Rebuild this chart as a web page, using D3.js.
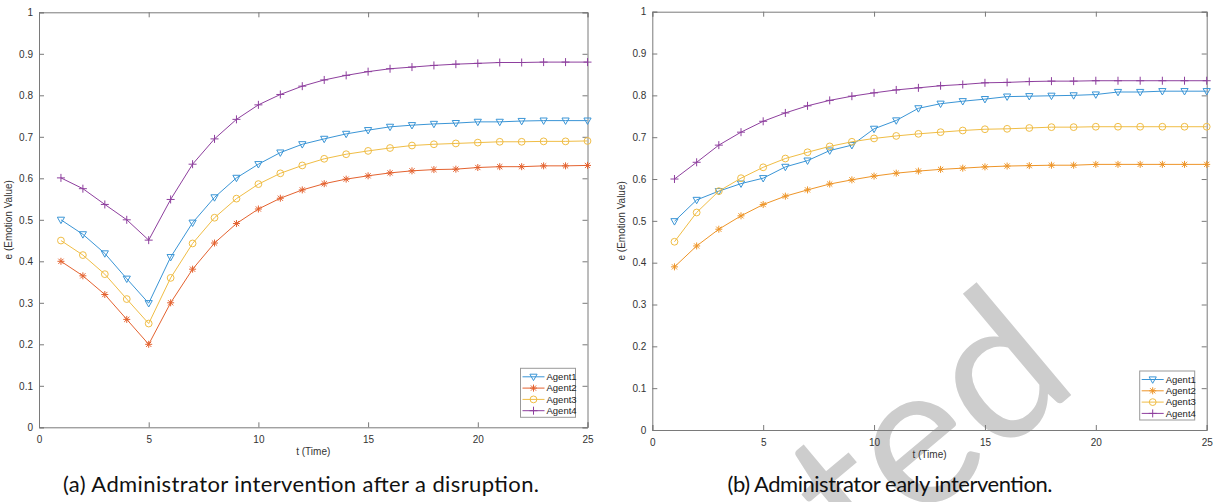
<!DOCTYPE html>
<html>
<head>
<meta charset="utf-8">
<script src="https://cdn.jsdelivr.net/npm/d3@7"></script>
<style>
  html, body { margin: 0; padding: 0; background: #fff; }
  svg { display: block; }
  .tick text { font-family: "Liberation Sans", Arial, sans-serif; font-size: 10px; fill: #333; }
</style>
</head>
<body>
<svg id="chart" width="1215" height="502"></svg>
<script>
// time steps (x categories)
const timeSteps = [1, 2, 3, 4, 5, 6, 7, 8, 9, 10, 11, 12, 13, 14, 15, 16, 17, 18, 19, 20, 21, 22, 23, 24, 25];
const xTicks = [0, 5, 10, 15, 20, 25];
const yTicks = [0, 0.1, 0.2, 0.3, 0.4, 0.5, 0.6, 0.7, 0.8, 0.9, 1];
const agentNames = ['Agent1', 'Agent2', 'Agent3', 'Agent4'];

// (a) intervention after a disruption
const disruptAgent1 = [0.500, 0.465, 0.419, 0.358, 0.299, 0.410, 0.493, 0.554, 0.601, 0.634, 0.662, 0.682, 0.695, 0.707, 0.716, 0.724, 0.728, 0.731, 0.733, 0.736, 0.736, 0.738, 0.739, 0.739, 0.739];
const disruptAgent2 = [0.400, 0.365, 0.320, 0.260, 0.200, 0.300, 0.381, 0.444, 0.491, 0.526, 0.552, 0.572, 0.587, 0.598, 0.606, 0.613, 0.618, 0.621, 0.622, 0.626, 0.628, 0.628, 0.630, 0.630, 0.631];
const disruptAgent3 = [0.450, 0.415, 0.369, 0.309, 0.250, 0.360, 0.443, 0.505, 0.551, 0.586, 0.612, 0.631, 0.647, 0.658, 0.666, 0.673, 0.679, 0.682, 0.684, 0.686, 0.688, 0.688, 0.689, 0.689, 0.690];
const disruptAgent4 = [0.601, 0.575, 0.537, 0.500, 0.451, 0.549, 0.634, 0.695, 0.742, 0.777, 0.802, 0.822, 0.837, 0.848, 0.857, 0.864, 0.868, 0.872, 0.875, 0.877, 0.879, 0.879, 0.880, 0.880, 0.880];

// (b) early intervention
const earlyAgent1 = [0.499, 0.550, 0.571, 0.589, 0.602, 0.629, 0.644, 0.668, 0.681, 0.720, 0.740, 0.769, 0.780, 0.786, 0.791, 0.797, 0.798, 0.799, 0.800, 0.802, 0.808, 0.808, 0.810, 0.810, 0.810];
const earlyAgent2 = [0.390, 0.440, 0.480, 0.512, 0.539, 0.559, 0.574, 0.588, 0.598, 0.607, 0.614, 0.619, 0.623, 0.626, 0.629, 0.631, 0.632, 0.633, 0.633, 0.635, 0.635, 0.635, 0.635, 0.635, 0.635];
const earlyAgent3 = [0.450, 0.520, 0.571, 0.602, 0.628, 0.649, 0.664, 0.678, 0.689, 0.697, 0.703, 0.708, 0.712, 0.716, 0.719, 0.720, 0.722, 0.724, 0.724, 0.725, 0.725, 0.725, 0.725, 0.725, 0.725];
const earlyAgent4 = [0.600, 0.640, 0.681, 0.712, 0.738, 0.758, 0.775, 0.788, 0.798, 0.806, 0.813, 0.818, 0.823, 0.826, 0.830, 0.831, 0.833, 0.834, 0.834, 0.835, 0.835, 0.835, 0.835, 0.835, 0.835];

const svg = d3.select('#chart');

// marker paths, centred on 0,0
const markers = {
  triangle: 'M-3.6,-2.6L3.6,-2.6L0,3.8Z',
  star: 'M-3.5,0L3.5,0M0,-3.5L0,3.5M-2.6,-2.6L2.6,2.6M-2.6,2.6L2.6,-2.6',
  circle: 'M3.4,0A3.4,3.4 0 1,1 -3.4,0A3.4,3.4 0 1,1 3.4,0Z',
  plus: 'M-4,0L4,0M0,-4L0,4'
};
const markerOrder = ['triangle', 'star', 'circle', 'plus'];

// faint watermark behind the right panel (runs off the bottom edge, as in the source)
svg.append('text')
  .attr('transform', 'translate(1082,386) rotate(-40)')
  .attr('text-anchor', 'end')
  .style('font-family', 'Lato, "Open Sans", sans-serif')
  .style('font-size', '200px')
  .style('fill', '#cdcdcd')
  .text('ted');

function drawPanel(cfg) {
  const x = d3.scaleLinear().domain([0, 25]).range([cfg.left, cfg.right]);
  const y = d3.scaleLinear().domain([0, 1]).range([cfg.bottom, cfg.top]);
  const g = svg.append('g');
  const axisColor = '#7a7a7a';

  // inward ticks on all four sides
  const bottomAxis = g.append('g')
    .attr('transform', `translate(0,${cfg.bottom})`)
    .call(d3.axisBottom(x).tickValues(xTicks).tickSize(-5).tickPadding(7).tickFormat(d3.format('d')));
  g.append('g')
    .attr('transform', `translate(0,${cfg.top})`)
    .call(d3.axisTop(x).tickValues(xTicks).tickSize(-5).tickFormat(''));
  g.append('g')
    .attr('transform', `translate(${cfg.left},0)`)
    .call(d3.axisLeft(y).tickValues(yTicks).tickSize(-5).tickPadding(6).tickFormat(d => d === 0 || d === 1 ? d3.format('d')(d) : d3.format('.1f')(d)));
  g.append('g')
    .attr('transform', `translate(${cfg.right},0)`)
    .call(d3.axisRight(y).tickValues(yTicks).tickSize(-5).tickFormat(''));
  g.selectAll('.domain').attr('stroke', axisColor);
  g.selectAll('.tick line').attr('stroke', axisColor);
  bottomAxis.selectAll('.tick text').attr('dy', '0.9em');

  g.append('text')
    .attr('x', (cfg.left + cfg.right) / 2)
    .attr('y', cfg.bottom + 28)
    .attr('text-anchor', 'middle')
    .style('font-family', '"Liberation Sans", Arial, sans-serif')
    .style('font-size', '10px')
    .style('fill', '#333')
    .text('t (Time)');

  g.append('text')
    .attr('transform', `translate(${cfg.left - 27},${(cfg.top + cfg.bottom) / 2}) rotate(-90)`)
    .attr('text-anchor', 'middle')
    .style('font-family', '"Liberation Sans", Arial, sans-serif')
    .style('font-size', '10px')
    .style('fill', '#333')
    .text('e (Emotion Value)');

  const line = d3.line()
    .x((d, i) => x(timeSteps[i]))
    .y(d => y(d));

  cfg.series.forEach((values, k) => {
    g.append('path')
      .datum(values)
      .attr('d', line)
      .attr('fill', 'none')
      .attr('stroke', cfg.colors[k])
      .attr('stroke-width', 1);
    g.selectAll(null)
      .data(values)
      .join('path')
      .attr('transform', (d, i) => `translate(${x(timeSteps[i])},${y(d)})`)
      .attr('d', markers[markerOrder[k]])
      .attr('fill', 'none')
      .attr('stroke', cfg.colors[k])
      .attr('stroke-width', 1);
  });

  // legend box in the lower right corner
  const lg = g.append('g').attr('transform', `translate(${cfg.right - 67},${cfg.bottom - 59})`);
  lg.append('rect')
    .attr('width', 55).attr('height', 49)
    .attr('fill', '#fff')
    .attr('stroke', '#9a9a9a')
    .attr('stroke-width', 1);
  agentNames.forEach((name, k) => {
    const row = lg.append('g').attr('transform', `translate(0,${8.5 + k * 11.3})`);
    row.append('line')
      .attr('x1', 2).attr('x2', 24)
      .attr('stroke', cfg.colors[k]);
    row.append('path')
      .attr('transform', 'translate(13,0)')
      .attr('d', markers[markerOrder[k]])
      .attr('fill', 'none')
      .attr('stroke', cfg.colors[k]);
    row.append('text')
      .attr('x', 26).attr('dy', '0.35em')
      .style('font-family', '"Liberation Sans", Arial, sans-serif')
      .style('font-size', '9.5px')
      .style('fill', '#222')
      .text(name);
  });

  svg.append('text')
    .attr('x', cfg.captionX)
    .attr('y', 492)
    .attr('text-anchor', 'middle')
    .attr('textLength', cfg.captionWidth)
    .attr('lengthAdjust', 'spacing')
    .style('font-family', 'Lato, "Open Sans", sans-serif')
    .style('font-size', '22px')
    .style('fill', '#111')
    .text(cfg.caption);
}

drawPanel({
  left: 39, right: 587.5, top: 12.3, bottom: 427.3,
  series: [disruptAgent1, disruptAgent2, disruptAgent3, disruptAgent4],
  colors: ['#3a95d6', '#e4622f', '#f0bd45', '#8e3f9e'],
  caption: '(a) Administrator intervention after a disruption.',
  captionX: 301, captionWidth: 476
});

drawPanel({
  left: 652.3, right: 1206.7, top: 11.7, bottom: 430,
  series: [earlyAgent1, earlyAgent2, earlyAgent3, earlyAgent4],
  colors: ['#3a95d6', '#ee9528', '#f0bd45', '#8e3f9e'],
  caption: '(b) Administrator early intervention.',
  captionX: 890, captionWidth: 325
});
</script>
</body>
</html>
